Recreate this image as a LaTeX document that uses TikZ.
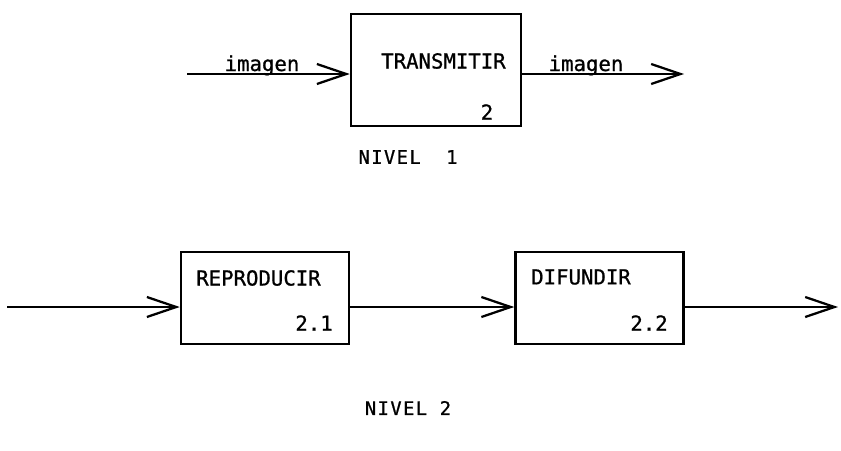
\documentclass[tikz,border=0pt]{standalone}
\usepackage{fontspec}
\newfontfamily\dfdfont{DejaVu Sans Mono}[FakeBold=0.9]
\usetikzlibrary{positioning,arrows.meta,calc}
\tikzset{
  proc/.style={draw, line width=1.9pt, minimum width=168*0.75pt, minimum height=92*0.75pt, inner sep=0pt},
  txt/.style={font=\dfdfont\fontsize{15.5}{17}\selectfont, inner sep=0pt},
  flow/.style={-{Straight Barb[length=22pt, width=15pt, line width=1.7pt]}, line width=2.1pt},
  lbl/.style={font=\dfdfont\addfontfeature{LetterSpace=8}\fontsize{14}{15}\selectfont, inner sep=0pt}
}

\begin{document}
\begin{tikzpicture}[x=0.75pt, y=-0.75pt]
    \useasboundingbox (0,0) rectangle (841,450);
    % nivel 1
    \node[proc, minimum width=170*0.75pt, minimum height=112*0.75pt] (trans) at (436,70) {};
    \node[txt, anchor=west] (transtxt) at (381,61) {TRANSMITIR};
    \node[txt] (transnum) at (487,112) {2};
    \coordinate (in1) at (187,74);
    \coordinate (out1) at (684,74);
    \draw[flow] (in1) -- (in1 -| trans.west);
    \draw[flow] (out1 -| trans.east) -- (out1);
    \node[txt, anchor=base] (img1) at (262,71) {imagen};
    \node[txt, anchor=base] (img2) at (586,71) {imagen};
    \node[lbl] (niv1) at (408,157) {NIVEL\ \ 1};
    % nivel 2
    \node[proc] (repro) at (265,298) {};
    \node[proc] (difu) at (599.5,298) {};
    \node[txt, anchor=west] (reprotxt) at (196,278) {REPRODUCIR};
    \node[txt, anchor=east] (repronum) at (333,323) {2.1};
    \node[txt, anchor=west] (difutxt) at (531,277) {DIFUNDIR};
    \node[txt, anchor=east] (difunum) at (668,323) {2.2};
    \coordinate (in2) at (7,307);
    \coordinate (out2) at (838,307);
    \draw[flow] (in2) -- (in2 -| repro.west);
    \draw[flow] (in2 -| repro.east) -- (in2 -| difu.west);
    \draw[flow] (out2 -| difu.east) -- (out2);
    \node[lbl] (niv2) at (408,408) {NIVEL 2};
  \end{tikzpicture}
\end{document}
